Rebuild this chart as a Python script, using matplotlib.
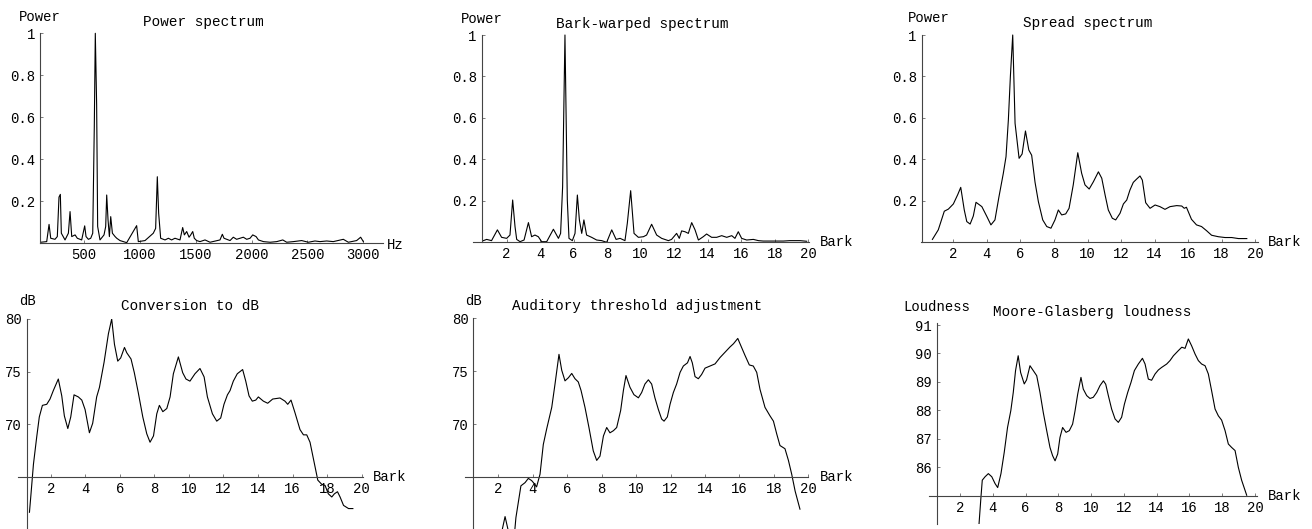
import matplotlib
matplotlib.use("Agg")
import matplotlib.pyplot as plt

# ---------------- data ----------------
# Panel 1: power spectrum (Hz, normalised power)
ps_hz = [112, 166, 187, 202, 240, 261, 276, 288, 297, 330, 360, 375, 390, 420, 440, 479, 506, 518,
         539, 560, 578, 592, 601, 613, 622, 643, 679, 694, 703, 715, 727, 739, 754, 778, 793, 822,
         882, 971, 986, 1046, 1120, 1141, 1156, 1168, 1186, 1225, 1255, 1284, 1314, 1359, 1383,
         1398, 1419, 1440, 1455, 1473, 1487, 1508, 1538, 1583, 1628, 1717, 1738, 1753, 1807, 1836,
         1866, 1896, 1926, 1956, 1986, 2010, 2040, 2061, 2106, 2166, 2225, 2279, 2314, 2374, 2448,
         2508, 2567, 2612, 2672, 2731, 2821, 2866, 2940, 2976, 3000]
ps_pow = [0.005, 0.008, 0.09, 0.024, 0.019, 0.032, 0.22, 0.233, 0.048, 0.016, 0.048, 0.151, 0.032,
          0.04, 0.024, 0.016, 0.083, 0.032, 0.019, 0.024, 0.048, 0.556, 1.0, 0.659, 0.08, 0.016,
          0.04, 0.08, 0.23, 0.111, 0.032, 0.127, 0.048, 0.032, 0.024, 0.013, 0.003, 0.084, 0.008,
          0.013, 0.048, 0.071, 0.317, 0.143, 0.024, 0.016, 0.024, 0.016, 0.024, 0.016, 0.075, 0.04,
          0.056, 0.029, 0.04, 0.056, 0.024, 0.013, 0.008, 0.016, 0.005, 0.016, 0.043, 0.024, 0.013,
          0.029, 0.019, 0.024, 0.029, 0.019, 0.024, 0.04, 0.032, 0.016, 0.008, 0.005, 0.008, 0.016,
          0.005, 0.008, 0.013, 0.005, 0.011, 0.008, 0.011, 0.008, 0.019, 0.005, 0.013, 0.029, 0.008]

# Panel 2: Bark-warped spectrum
bw_bark = [0.61, 0.81, 1.1, 1.45, 1.7, 2.0, 2.2, 2.36, 2.5, 2.6, 2.8, 3.04, 3.3, 3.49, 3.69, 3.89,
           4.09, 4.39, 4.79, 5.09, 5.22, 5.34, 5.48, 5.62, 5.72, 5.92, 6.08, 6.22, 6.34, 6.48, 6.61,
           6.77, 7.07, 7.37, 7.67, 7.97, 8.27, 8.53, 8.77, 9.06, 9.2, 9.4, 9.6, 9.86, 10.16, 10.35,
           10.65, 10.95, 11.25, 11.65, 11.84, 12.14, 12.3, 12.44, 12.64, 12.84, 13.04, 13.24, 13.44,
           13.73, 13.93, 14.23, 14.53, 14.83, 15.13, 15.43, 15.62, 15.82, 16.02, 16.32, 16.72,
           17.02, 17.31, 17.71, 18.11, 18.51, 18.91, 19.5, 19.9]
bw_pow = [0.008, 0.014, 0.008, 0.06, 0.024, 0.019, 0.035, 0.204, 0.076, 0.014, 0.003, 0.011, 0.095,
          0.027, 0.035, 0.027, 0.003, 0.003, 0.063, 0.019, 0.043, 0.268, 1.0, 0.204, 0.019, 0.008,
          0.043, 0.228, 0.108, 0.043, 0.108, 0.035, 0.024, 0.011, 0.008, 0.0, 0.06, 0.014, 0.019,
          0.008, 0.092, 0.249, 0.043, 0.024, 0.027, 0.035, 0.087, 0.035, 0.019, 0.008, 0.014, 0.043,
          0.019, 0.055, 0.051, 0.043, 0.095, 0.06, 0.011, 0.027, 0.04, 0.024, 0.024, 0.032, 0.024,
          0.032, 0.019, 0.051, 0.019, 0.011, 0.014, 0.008, 0.006, 0.006, 0.006, 0.006, 0.008, 0.008,
          0.005]

# Panel 3: spread spectrum
sp_bark = [0.75, 1.1, 1.46, 1.7, 2.0, 2.26, 2.44, 2.65, 2.8, 3.0, 3.19, 3.35, 3.7, 4.0, 4.24, 4.48,
           4.72, 4.98, 5.14, 5.28, 5.4, 5.54, 5.68, 5.92, 6.1, 6.3, 6.5, 6.67, 6.87, 7.07, 7.33,
           7.57, 7.82, 8.06, 8.26, 8.46, 8.7, 8.9, 9.15, 9.42, 9.65, 9.85, 10.1, 10.35, 10.65, 10.85,
           11.05, 11.24, 11.48, 11.68, 11.94, 12.14, 12.34, 12.53, 12.73, 12.93, 13.13, 13.27, 13.47,
           13.73, 14.03, 14.32, 14.62, 14.92, 15.32, 15.62, 15.77, 15.9, 16.2, 16.5, 16.8, 17.1,
           17.4, 17.8, 18.2, 18.6, 19.0, 19.5]
sp_pow = [0.014, 0.06, 0.15, 0.16, 0.185, 0.23, 0.265, 0.156, 0.10, 0.088, 0.127, 0.193, 0.172,
          0.124, 0.084, 0.108, 0.22, 0.333, 0.413, 0.59, 0.80, 1.0, 0.574, 0.405, 0.426, 0.537,
          0.445, 0.42, 0.29, 0.196, 0.108, 0.076, 0.068, 0.108, 0.156, 0.132, 0.137, 0.164, 0.277,
          0.432, 0.333, 0.277, 0.257, 0.292, 0.34, 0.309, 0.228, 0.156, 0.116, 0.108, 0.14, 0.185,
          0.204, 0.252, 0.289, 0.305, 0.32, 0.30, 0.191, 0.164, 0.18, 0.172, 0.159, 0.172, 0.177,
          0.175, 0.164, 0.169, 0.111, 0.084, 0.076, 0.056, 0.034, 0.027, 0.023, 0.023, 0.018, 0.018]

# Panel 4: conversion to dB
db_bark = [0.77, 0.86, 1.0, 1.19, 1.34, 1.52, 1.77, 1.96, 2.15, 2.44, 2.64, 2.79, 2.99, 3.16, 3.35,
           3.6, 3.8, 3.99, 4.24, 4.43, 4.66, 4.82, 5.09, 5.34, 5.53, 5.69, 5.88, 6.05, 6.27, 6.4,
           6.65, 6.84, 7.07, 7.33, 7.56, 7.75, 7.95, 8.14, 8.29, 8.49, 8.72, 8.91, 9.1, 9.39, 9.64,
           9.83, 10.06, 10.35, 10.64, 10.88, 11.07, 11.36, 11.61, 11.84, 12.03, 12.23, 12.38, 12.57,
           12.8, 13.11, 13.29, 13.48, 13.67, 13.87, 14.02, 14.31, 14.56, 14.85, 15.27, 15.56, 15.72,
           15.91, 16.14, 16.43, 16.63, 16.82, 17.01, 17.21, 17.46, 17.69, 17.88, 18.07, 18.27,
           18.42, 18.6, 18.75, 18.95, 19.24, 19.49]
db_val = [61.65, 63.4, 66.2, 68.8, 70.7, 71.8, 71.9, 72.4, 73.2, 74.3, 72.7, 70.8, 69.6, 70.7, 72.8,
          72.6, 72.3, 71.4, 69.2, 70.1, 72.6, 73.5, 75.9, 78.6, 80.0, 77.6, 76.0, 76.3, 77.3, 76.8,
          76.2, 74.9, 73.0, 70.7, 69.1, 68.3, 68.9, 71.0, 71.8, 71.2, 71.5, 72.6, 74.8, 76.4, 74.9,
          74.3, 74.1, 74.8, 75.3, 74.5, 72.6, 71.0, 70.3, 70.6, 71.9, 72.8, 73.2, 74.1, 74.8, 75.2,
          74.1, 72.7, 72.2, 72.3, 72.6, 72.2, 72.0, 72.4, 72.5, 72.2, 71.9, 72.3, 71.1, 69.5, 69.0,
          69.0, 68.3, 66.7, 64.7, 64.3, 64.2, 63.4, 63.1, 63.4, 63.6, 63.1, 62.3, 62.0, 62.0]

# Panel 5: auditory threshold adjustment
th_bark = [2.15, 2.39, 2.6, 2.75, 2.9, 3.02, 3.31, 3.55, 3.74, 3.93, 4.09, 4.22, 4.42, 4.61, 4.81,
           5.1, 5.29, 5.52, 5.68, 5.87, 6.07, 6.26, 6.45, 6.64, 6.8, 7.03, 7.26, 7.51, 7.71, 7.9,
           8.1, 8.29, 8.48, 8.68, 8.87, 9.1, 9.26, 9.41, 9.64, 9.87, 10.13, 10.32, 10.51, 10.71,
           10.9, 11.09, 11.29, 11.48, 11.62, 11.81, 11.97, 12.16, 12.35, 12.55, 12.74, 12.98, 13.13,
           13.26, 13.42, 13.61, 13.8, 14.0, 14.29, 14.58, 14.87, 15.16, 15.45, 15.65, 15.8, 15.9,
           16.03, 16.32, 16.57, 16.8, 17.0, 17.19, 17.48, 17.77, 17.97, 18.16, 18.35, 18.64, 18.84,
           19.03, 19.23, 19.51]
th_val = [59.5, 61.3, 59.8, 59.0, 59.0, 61.2, 64.2, 64.5, 64.9, 64.7, 64.4, 64.1, 65.3, 68.1, 69.6,
          71.6, 73.8, 76.6, 75.1, 74.1, 74.4, 74.8, 74.3, 74.0, 73.2, 71.6, 69.7, 67.5, 66.6, 67.0,
          68.9, 69.7, 69.2, 69.4, 69.7, 71.3, 73.2, 74.6, 73.5, 72.8, 72.5, 73.0, 73.8, 74.2, 73.8,
          72.5, 71.4, 70.5, 70.3, 70.7, 71.9, 73.0, 73.8, 74.9, 75.5, 75.8, 76.4, 75.8, 74.5, 74.3,
          74.7, 75.3, 75.5, 75.7, 76.3, 76.8, 77.3, 77.6, 77.9, 78.1, 77.6, 76.5, 75.6, 75.5, 74.9,
          73.3, 71.6, 70.8, 70.3, 69.1, 68.0, 67.7, 66.6, 65.3, 63.7, 62.0]

# Panel 6: Moore-Glasberg loudness
ld_bark = [3.16, 3.28, 3.36, 3.53, 3.73, 3.94, 4.14, 4.3, 4.5, 4.7, 4.9, 5.1, 5.25, 5.39, 5.55, 5.7,
           5.92, 6.06, 6.27, 6.47, 6.68, 6.88, 7.08, 7.29, 7.49, 7.65, 7.8, 7.96, 8.1, 8.26, 8.47,
           8.67, 8.87, 9.02, 9.18, 9.38, 9.52, 9.73, 9.93, 10.13, 10.34, 10.54, 10.75, 10.89, 11.05,
           11.25, 11.46, 11.66, 11.86, 12.03, 12.23, 12.43, 12.64, 12.88, 13.13, 13.29, 13.49,
           13.69, 13.9, 14.1, 14.3, 14.61, 14.81, 15.02, 15.32, 15.53, 15.73, 15.93, 16.13, 16.34,
           16.54, 16.74, 16.95, 17.15, 17.35, 17.56, 17.76, 17.96, 18.17, 18.37, 18.57, 18.78,
           18.98, 19.18, 19.49]
ld_val = [84.0, 84.96, 85.55, 85.67, 85.78, 85.67, 85.43, 85.29, 85.78, 86.53, 87.4, 87.99, 88.63,
          89.4, 89.92, 89.33, 88.93, 89.07, 89.57, 89.4, 89.22, 88.63, 87.93, 87.29, 86.7, 86.41,
          86.23, 86.47, 87.05, 87.4, 87.23, 87.29, 87.52, 87.99, 88.57, 89.16, 88.75, 88.52, 88.42,
          88.46, 88.63, 88.87, 89.04, 88.92, 88.52, 88.05, 87.7, 87.58, 87.76, 88.22, 88.63, 88.98,
          89.4, 89.63, 89.83, 89.63, 89.1, 89.06, 89.28, 89.42, 89.51, 89.63, 89.75, 89.92, 90.1,
          90.22, 90.18, 90.51, 90.27, 89.98, 89.75, 89.63, 89.57, 89.28, 88.69, 88.05, 87.81,
          87.66, 87.29, 86.82, 86.7, 86.59, 86.0, 85.55, 85.02]

bark_ticks = [2, 4, 6, 8, 10, 12, 14, 16, 18, 20]
hz_ticks = [500, 1000, 1500, 2000, 2500, 3000]
pow_ticks = [0.2, 0.4, 0.6, 0.8, 1.0]
pow_labels = ["0.2", "0.4", "0.6", "0.8", "1"]
db_ticks = [70, 75, 80]
ld_ticks = [86, 87, 88, 89, 90, 91]

# ---------------- layout ----------------
W, H = 1312, 529
MONO = "Liberation Mono"
plt.rcParams["font.family"] = [MONO, "DejaVu Sans Mono"]
fig = plt.figure(figsize=(W / 100, H / 100), dpi=100)


def make_ax(left, right, top, bottom, xlim, ylim, xcross, ycross):
    ax = fig.add_axes([left / W, 1 - bottom / H, (right - left) / W, (bottom - top) / H])
    ax.set_xlim(*xlim)
    ax.set_ylim(*ylim)
    for s in ("top", "right"):
        ax.spines[s].set_visible(False)
    ax.spines["left"].set_position(("data", xcross))
    ax.spines["bottom"].set_position(("data", ycross))
    for s in ("left", "bottom"):
        ax.spines[s].set_color("#444444")
        ax.spines[s].set_linewidth(0.8)
    ax.patch.set_alpha(0)
    ax.tick_params(direction="in", length=2.5, width=0.6, color="#666666",
                   labelsize=10, pad=3.5)
    return ax


def ftext(x, y, s, size=10, ha="center"):
    fig.text(x / W, 1 - y / H, s, fontsize=size, ha=ha, va="center", family=MONO)


LW = 0.8

# Panel 1
ax1 = make_ax(40, 383, 33.3, 243.3, (106, 3176), (0, 1.0), 106, 0)
ax1.plot(ps_hz, ps_pow, color="black", lw=LW, clip_on=False)
ax1.set_xticks(hz_ticks)
ax1.set_xticklabels([str(t) for t in hz_ticks])
ax1.set_yticks(pow_ticks)
ax1.set_yticklabels(pow_labels)
ftext(40, 17, "Power")
ftext(203, 22, "Power spectrum", 10.4)
ftext(387, 245, "Hz", ha="left")

# Panel 2
ax2 = make_ax(473.1, 809.2, 35, 242.3, (0, 20.05), (0, 1.0), 0.51, 0)
ax2.plot(bw_bark, bw_pow, color="black", lw=LW, clip_on=False)
ax2.set_xticks(bark_ticks)
ax2.set_xticklabels([str(t) for t in bark_ticks])
ax2.set_yticks(pow_ticks)
ax2.set_yticklabels(pow_labels)
ftext(482, 19, "Power")
ftext(642, 24, "Bark-warped spectrum", 10.4)
ftext(820, 242, "Bark", ha="left")

# Panel 3
ax3 = make_ax(921, 1257.7, 35, 242.3, (0.07, 20.15), (0, 1.0), 0.11, 0)
ax3.plot(sp_bark, sp_pow, color="black", lw=LW, clip_on=False)
ax3.set_xticks(bark_ticks)
ax3.set_xticklabels([str(t) for t in bark_ticks])
ax3.set_yticks(pow_ticks)
ax3.set_yticklabels(pow_labels)
ftext(929, 18, "Power")
ftext(1088, 23, "Spread spectrum", 10.4)
ftext(1268, 242, "Bark", ha="left")

# Panel 4
ax4 = make_ax(18.4, 363.4, 319, 529, (0.13, 20.1), (60.06, 80), 0.61, 65)
ax4.plot(db_bark, db_val, color="black", lw=LW)
ax4.set_xticks(bark_ticks)
ax4.set_xticklabels([str(t) for t in bark_ticks])
ax4.set_yticks(db_ticks)
ax4.set_yticklabels([str(t) for t in db_ticks])
ftext(27, 301, "dB")
ftext(190, 306, "Conversion to dB", 10.4)
ftext(373, 477, "Bark", ha="left")

# Panel 5
ax5 = make_ax(465.1, 808.4, 318.3, 529.3, (0.07, 20.0), (60.1, 80), 0.55, 65)
ax5.plot(th_bark, th_val, color="black", lw=LW)
ax5.set_xticks(bark_ticks)
ax5.set_xticklabels([str(t) for t in bark_ticks])
ax5.set_yticks(db_ticks)
ax5.set_yticklabels([str(t) for t in db_ticks])
ftext(473, 301, "dB")
ftext(637, 306, "Auditory threshold adjustment", 10.4)
ftext(820, 477, "Bark", ha="left")

# Panel 6
ax6 = make_ax(929, 1256.7, 323.3, 524.3, (0.11, 20.1), (84.0, 91.06), 0.58, 85)
ax6.plot(ld_bark, ld_val, color="black", lw=LW)
ax6.set_xticks(bark_ticks)
ax6.set_xticklabels([str(t) for t in bark_ticks])
ax6.set_yticks(ld_ticks)
ax6.set_yticklabels([str(t) for t in ld_ticks])
ftext(937, 307, "Loudness")
ftext(1092, 312, "Moore-Glasberg loudness", 10.4)
ftext(1268, 496, "Bark", ha="left")

fig.savefig("out.png", dpi=100)
